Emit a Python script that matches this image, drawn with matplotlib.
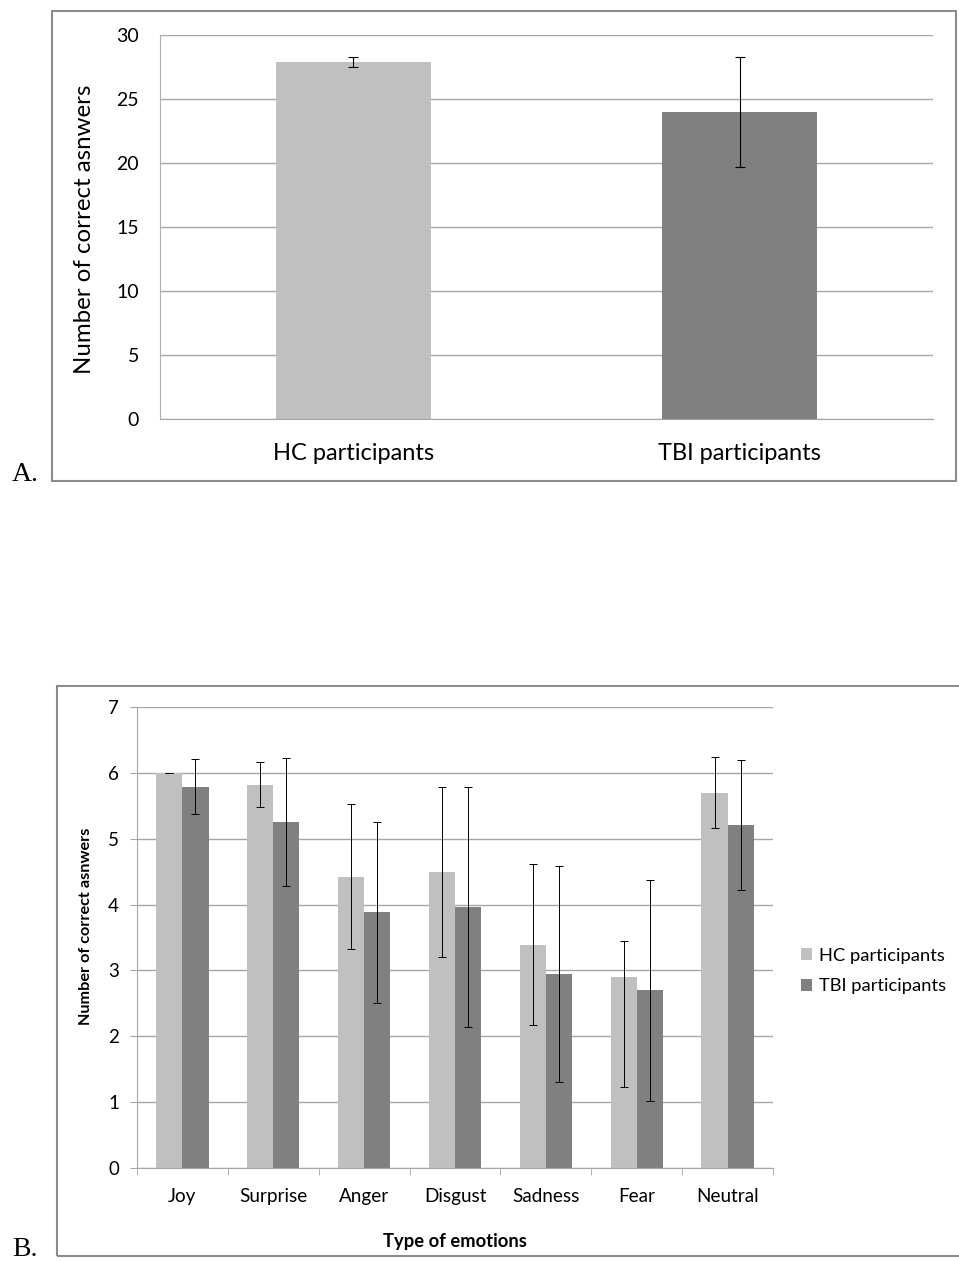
import numpy as np
import matplotlib
matplotlib.use("Agg")
import matplotlib.pyplot as plt
from matplotlib.patches import Rectangle

plt.rcParams['font.family'] = ['Lato', 'DejaVu Sans']

# panel A: total score per group
groups = ['HC participants', 'TBI participants']
total_mean = [27.9, 24.0]
total_err = [0.4, 4.3]

# panel B: score per emotion
emotions = ['Joy', 'Surprise', 'Anger', 'Disgust', 'Sadness', 'Fear', 'Neutral']
hc_mean = [6.0, 5.82, 4.42, 4.50, 3.39, 2.90, 5.70]
hc_err_lo = [0.0, 0.34, 1.10, 1.29, 1.22, 1.67, 0.54]
hc_err_hi = [0.0, 0.34, 1.10, 1.29, 1.22, 0.54, 0.54]
tbi_mean = [5.79, 5.25, 3.88, 3.96, 2.95, 2.70, 5.21]
tbi_err = [0.42, 0.97, 1.37, 1.82, 1.64, 1.68, 0.99]

HC_COL = '#c0c0c0'
TBI_COL = '#808080'
GRID_COL = '#a6a6a6'
FRAME_COL = '#8c8c8c'

W, H = 959, 1261
fig = plt.figure(figsize=(W / 100, H / 100), dpi=100)


def px_axes(left, top, right, bottom):
    return fig.add_axes([left / W, 1 - bottom / H, (right - left) / W, (bottom - top) / H])


def px_frame(left, top, right, bottom):
    fig.patches.append(Rectangle((left / W, 1 - bottom / H), (right - left) / W, (bottom - top) / H,
                                 transform=fig.transFigure, fill=False, edgecolor=FRAME_COL, lw=1.5))


# ---------- panel A ----------
px_frame(52, 11, 956, 481)
axA = px_axes(160, 35, 933, 419)
x = np.arange(len(groups))
axA.bar(x, total_mean, width=0.40, color=[HC_COL, TBI_COL], zorder=2)
axA.errorbar(x, total_mean, yerr=total_err, fmt='none', ecolor='black',
             elinewidth=0.8, capsize=3.5, capthick=0.8, zorder=3)
axA.set_xlim(-0.5, 1.5)
axA.set_ylim(0, 30)
axA.set_yticks(range(0, 31, 5))
axA.set_xticks(x)
axA.set_xticklabels(groups, fontsize=17)
axA.tick_params(axis='y', length=0, pad=15, labelsize=14)
axA.tick_params(axis='x', length=0, pad=17)
axA.yaxis.grid(True, color=GRID_COL, lw=1)
axA.set_axisbelow(True)
for s in ['top', 'right']:
    axA.spines[s].set_visible(False)
axA.spines['left'].set_color('#b0b0b0')
axA.spines['bottom'].set_color(GRID_COL)
axA.set_ylabel('Number of correct asnwers', fontsize=17.3)
axA.yaxis.set_label_coords(-0.084, 0.495)
fig.text(12 / W, 1 - 481 / H, 'A.', family='Liberation Serif', fontsize=20, va='baseline')

# ---------- panel B ----------
px_frame(57, 686, 990, 1256)
axB = px_axes(137, 707, 773, 1168)
xb = np.arange(len(emotions))
bw = 0.287
axB.bar(xb - bw / 2, hc_mean, width=bw, color=HC_COL, label='HC participants', zorder=2)
axB.bar(xb + bw / 2, tbi_mean, width=bw, color=TBI_COL, label='TBI participants', zorder=2)
axB.errorbar(xb - bw / 2, hc_mean, yerr=[hc_err_lo, hc_err_hi], fmt='none', ecolor='black',
             elinewidth=0.7, capsize=3, capthick=0.7, zorder=3)
axB.errorbar(xb + bw / 2, tbi_mean, yerr=tbi_err, fmt='none', ecolor='black',
             elinewidth=0.7, capsize=3, capthick=0.7, zorder=3)
axB.set_xlim(-0.5, len(emotions) - 0.5)
axB.set_ylim(0, 7)
axB.set_yticks(range(0, 8))
axB.set_xticks(xb)
axB.set_xticklabels(emotions, fontsize=13.6)
axB.set_xticks(np.arange(-0.5, len(emotions)), minor=True)
axB.tick_params(axis='x', which='major', length=0, pad=14.5)
axB.tick_params(axis='x', which='minor', length=5, color=GRID_COL)
axB.tick_params(axis='y', length=5, color=GRID_COL, pad=8, labelsize=13.5)
axB.yaxis.grid(True, color=GRID_COL, lw=1)
axB.set_axisbelow(True)
for s in ['top', 'right']:
    axB.spines[s].set_visible(False)
axB.spines['left'].set_color(GRID_COL)
axB.spines['bottom'].set_color(GRID_COL)
axB.set_ylabel('Number of correct asnwers', fontsize=11.7, fontweight='bold')
axB.yaxis.set_label_coords((93 - 137) / 636, 0.525)
axB.set_xlabel('Type of emotions', fontsize=13.2, fontweight='bold')
axB.xaxis.set_label_coords(0.5, (1168 - 1233) / 461)
fig.legend(loc='center left', bbox_to_anchor=(784 / W, 1 - 971 / H), frameon=False,
           fontsize=13.2, handlelength=0.6, handleheight=0.6, handletextpad=0.4, labelspacing=0.8)
fig.text(12 / W, 1 - 1256 / H, 'B.', family='Liberation Serif', fontsize=20, va='baseline')

fig.savefig('out.png', dpi=100)
